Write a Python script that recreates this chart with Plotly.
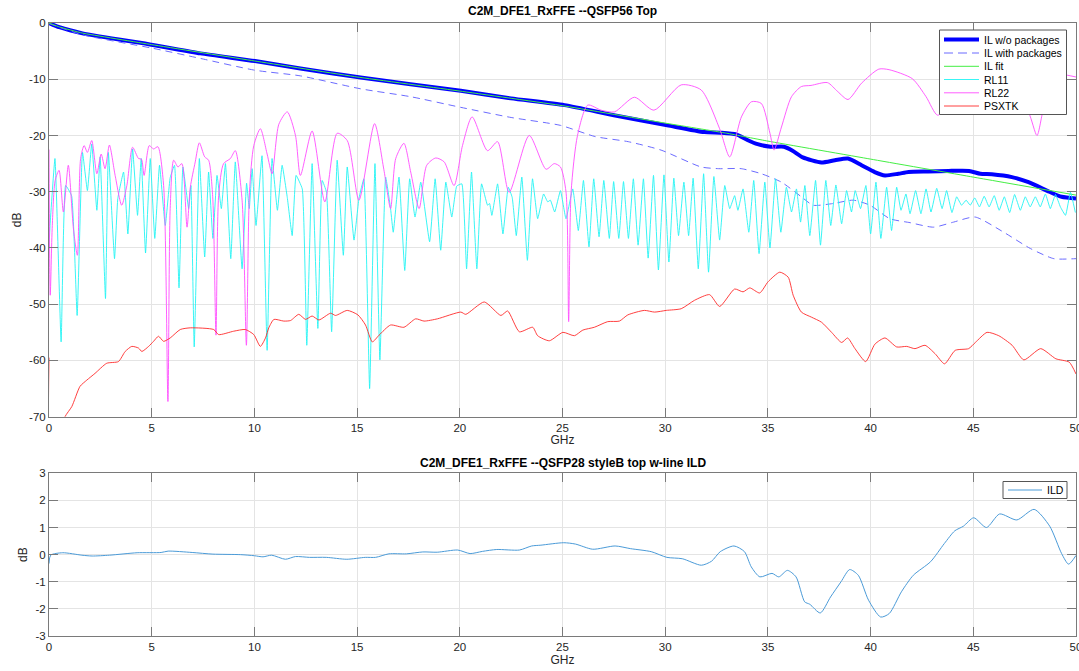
import plotly.graph_objects as go

# ---------------- data ----------------
IL_wo_f = [0, 0.5, 1.63, 5.06, 7.37, 10.03, 12.24, 15.17, 20.05, 22.49, 25.1, 27.5, 30.1, 31.9,
           32.73, 33.46, 34.0, 34.5, 35.13, 35.78, 36.2, 36.7, 37.6, 38.26, 38.9, 39.56, 40.2,
           40.7, 41.35, 41.84, 42.8, 43.8, 44.8, 45.34, 45.9, 46.88, 47.69, 48.7, 49.3, 50]
IL_wo_db = [0, -0.75, -1.84, -3.9, -5.4, -6.77, -8.1, -9.7, -12.06, -13.4, -14.6, -16.4, -18.2, -19.4,
            -19.5, -19.8, -20.8, -21.55, -22.0, -22.0, -22.7, -23.9, -24.8, -24.4, -24.1, -25.3, -26.5,
            -27.1, -26.8, -26.5, -26.4, -26.3, -26.3, -26.8, -26.9, -27.4, -28.3, -30.0, -30.9, -31.2]

IL_with_f = [0, 1.63, 5.06, 7.37, 10.03, 12.24, 15.17, 17.6, 20.05, 22.5, 24.9, 26.6, 28.2, 29.8,
             31.75, 32.6, 33.7, 34.68, 35.66, 36.63, 37.2, 38.17, 39.15, 39.97, 40.94, 41.92, 43.06,
             44.04, 45.09, 46.48, 47.78, 48.92, 50]
IL_with_db = [-0.1, -2.1, -4.5, -6.3, -8.4, -9.4, -11.7, -13.1, -15.0, -16.8, -18.2, -20.2, -21.1, -22.6,
              -25.6, -25.9, -25.9, -26.8, -28.3, -30.9, -32.4, -32.1, -31.5, -32.4, -34.8, -35.5, -36.3,
              -35.4, -34.5, -37.2, -40.1, -41.9, -41.9]

IL_fit_f = [0, 0.5, 1.63, 5, 10, 15, 20, 25, 30, 33, 35, 40, 45, 50]
IL_fit_db = [0, -0.7, -1.8, -3.85, -6.75, -9.6, -12.1, -14.7, -17.8, -19.6, -21.0, -24.2, -27.4, -30.6]

RL11_f = [0, 0.05, 0.29, 0.59, 0.81, 1.1, 1.37, 1.63, 1.87, 2.08, 2.33, 2.49, 2.75, 2.89, 3.19, 3.35,
          3.63, 3.84, 4.07, 4.31, 4.49, 4.7, 4.93, 5.15, 5.38, 5.66, 5.9, 6.11, 6.33, 6.52, 6.8, 6.91,
          7.07, 7.32, 7.58, 7.77, 7.98, 8.18, 8.39, 8.59, 8.85, 9.07, 9.4, 9.62, 9.75, 9.89, 10.08,
          10.37, 10.62, 10.86, 11.12, 11.35, 11.6, 11.84, 12.03, 12.33, 12.55, 12.81, 13.09, 13.3,
          13.51, 13.76, 14.03, 14.33, 14.52, 14.85, 15.09, 15.33, 15.61, 15.87, 16.11, 16.39, 16.63,
          16.76, 17.04, 17.32, 17.56, 17.82, 18.1, 18.53, 18.8, 19.07, 19.32, 19.61, 19.85, 20.1,
          20.33, 20.57, 20.83, 21.06, 21.35, 21.45, 21.56, 21.84, 22.1, 22.36, 22.55, 22.75, 23.02,
          23.29, 23.54, 23.79, 24.08, 24.28, 24.41, 24.62, 24.9, 25.17, 25.5, 25.77, 26.02, 26.29,
          26.52, 26.78, 27.01, 27.28, 27.49, 27.74, 27.97, 28.21, 28.45, 28.68, 28.94, 29.17, 29.43,
          29.67, 29.94, 30.18, 30.42, 30.65, 30.91, 31.14, 31.36, 31.61, 31.87, 32.11, 32.37, 32.65,
          32.9, 33.14, 33.38, 33.54, 33.79, 34.07, 34.31, 34.57, 34.85, 35.1, 35.37, 35.63, 35.9,
          36.15, 36.39, 36.59, 36.8, 37.04, 37.32, 37.56, 37.82, 38.06, 38.31, 38.59, 38.83, 39.07,
          39.25, 39.51, 39.77, 40.0, 40.26, 40.5, 40.78, 41.02, 41.27, 41.48, 41.72, 41.92, 42.19,
          42.45, 42.7, 42.94, 43.22, 43.48, 43.7, 43.96, 44.19, 44.43, 44.65, 44.85, 45.07, 45.3,
          45.53, 45.77, 46.02, 46.26, 46.51, 46.77, 47.01, 47.29, 47.53, 47.77, 48.02, 48.26, 48.51,
          48.75, 49.0, 49.24, 49.49, 49.73, 49.97]
RL11_db = [-40, -36, -24.1, -56.7, -28.9, -30.7, -52, -23, -29.8, -21.5, -33.3, -23.8, -49, -23, -41.9, -31.2,
           -26.5, -37.5, -22.4, -34.2, -24.1, -40.9, -24.1, -38.3, -25.3, -36, -27.5, -25.3, -47.1, -25.6, -33, -28.9,
           -57.6, -24.1, -41.6, -26.5, -38.3, -27.1, -33, -25, -41.9, -24.7, -43.7, -28.5, -33, -25.9, -36,
           -23.6, -58.2, -24.1, -33.3, -25.3, -31, -37.8, -27.1, -29.5, -57.3, -25, -54.3, -28,
           -30.1, -54.9, -24.4, -41.3, -25.6, -38.6, -31.2, -27.7, -65, -25, -59.9, -27.4, -33,
           -37.2, -27.4, -44, -27.7, -34.5, -28.3, -38.9, -27.7, -40.4, -28.3, -34.5, -29, -28.6,
           -43.7, -26.5, -43.7, -28.6, -32.4, -32.1, -34.2, -28.6, -37.5, -29.2, -31, -37.8, -27.4,
           -42.2, -27.7, -34.8, -30.4, -31.8, -31.5, -33.6, -29.8, -34.8, -29.5, -36.9, -28, -39.8,
           -27.7, -38, -28, -38.3, -28.2, -38.3, -28.2, -38.3, -27.7, -39.5, -27.7, -41.8, -27.1,
           -43.9, -27, -42.5, -27.6, -37.8, -28.3, -37.8, -27.6, -43.7, -26.8, -44.3, -27.3, -38.6,
           -28.9, -33, -30.7, -33.3, -29.5, -37.2, -28, -41, -28.3, -40, -27.7, -37.2, -29.2,
           -33.6, -29.5, -35.4, -28.9, -37.8, -28, -39.5, -28, -36, -28.8, -35.7, -29.8, -33.6,
           -29.8, -33, -28.9, -37.5, -28.3, -38.3, -29.2, -36.9, -29.2, -33.3, -30.4, -33.9, -29.8,
           -33.9, -29.5, -33.6, -29.4, -33, -29.8, -33.7, -30.9, -32.4, -31.5, -32.4, -31.1, -32.7,
           -30.8, -32.7, -30.7, -33.3, -30.9, -33.7, -30.5, -33.3, -30.9, -32.7, -30.9, -32.7, -30.4,
           -33, -30.5, -32.7, -34.2, -30.1, -33.7]

RL22_f = [0, 0.06, 0.16, 0.3, 0.49, 0.7, 0.94, 1.19, 1.38, 1.54, 1.71, 1.87, 2.08, 2.33, 2.54, 2.73,
          2.94, 3.22, 3.54, 3.79, 4.07, 4.36, 4.5, 4.63, 4.88, 5.09, 5.3, 5.58, 5.79, 5.9, 6.07, 6.28,
          6.47, 6.72, 6.88, 7.12, 7.32, 7.58, 7.77, 7.97, 8.13, 8.26, 8.5, 8.83, 9.07, 9.4, 9.61, 9.76,
          9.97, 10.29, 10.62, 10.86, 11.19, 11.6, 12.0, 12.24, 12.81, 13.43, 14.03, 14.52, 15.09,
          15.85, 16.3, 16.63, 16.88, 17.28, 17.61, 18.02, 18.39, 18.83, 19.24, 19.72, 20.13, 20.6,
          21.35, 21.84, 22.4, 23.38, 24.2, 24.6, 24.9, 25.17, 25.3, 25.42, 25.73, 26.23, 26.88,
          27.53, 28.5, 29.45, 30.78, 31.75, 32.65, 33.14, 33.71, 34.2, 34.68, 35.1, 35.3, 35.66,
          36.15, 36.63, 37.1, 37.9, 38.4, 38.9, 39.56, 40.4, 40.9, 42.03, 42.7, 43.27, 44.2, 45.2,
          46.3, 47.2, 47.7, 48.1, 48.4, 49.0, 49.6, 50]
RL22_db = [-22.5, -48.4, -36, -28, -26.2, -33.6, -25.3, -36.6, -41.3, -24.1, -21.8, -23, -20.9, -26.8, -23.3, -25.9,
           -21.7, -27.1, -32.4, -28.9, -22.1, -24.1, -24.2, -27.1, -21.8, -22.4, -22.0, -28.9, -67.3, -33, -24.4, -25.6,
           -25, -36.3, -29.2, -24.7, -21.3, -23.8, -24.4, -30.9, -55.5, -30.7, -25, -24.1, -22.7, -31.5, -57.3, -30.1,
           -21.8, -18.8, -23.3, -26.8, -18, -15.8, -20, -27.1, -19.2, -31.8, -19.6, -20.9, -31.5,
           -17.9, -26, -33, -24.1, -21.4, -26.5, -33, -25.3, -24, -24.7, -28.9, -21.8, -16.7,
           -22.7, -21.1, -30.1, -20, -26, -25, -25.6, -30, -53.1, -30, -20, -14.6, -15.5,
           -15.8, -13.2, -15.5, -11.0, -11.9, -18.8, -23.8, -16.7, -14, -14.3, -19.6, -22.6, -18.5,
           -13.1, -11.3, -11.1, -10.6, -12.2, -13.6, -10.7, -8.2, -8.3, -9.9, -13.1, -16.4, -12, -10.5,
           -11.5, -14, -16, -20, -15.5, -9, -9.3, -9.6]

PSXTK_f = [0, 0.05, 0.5, 0.78, 1.11, 1.51, 1.84, 2.24, 2.81, 3.38, 3.71, 4.03, 4.36, 4.52, 4.85, 5.09,
           5.33, 5.58, 5.9, 6.39, 6.88, 8.02, 8.26, 8.99, 9.56, 9.97, 10.29, 10.54, 10.7, 10.95, 11.43,
           11.76, 12.16, 12.49, 12.81, 13.14, 13.71, 13.95, 14.52, 15.04, 15.41, 15.74, 16.07, 16.63,
           17.28, 17.85, 18.26, 18.91, 20.05, 20.29, 21.19, 22.0, 22.33, 22.9, 23.55, 23.79, 24.36,
           25.02, 25.58, 25.99, 26.55, 27.2, 27.77, 28.18, 28.99, 29.48, 30.05, 30.78, 31.43, 32.16,
           32.65, 33.38, 33.79, 34.12, 34.6, 35.01, 35.58, 35.99, 36.23, 36.63, 37.12, 37.61, 38.1,
           38.59, 38.88, 39.24, 39.76, 40.21, 40.7, 41.27, 41.76, 42.16, 42.65, 43.14, 43.6, 44.12,
           44.77, 45.1, 45.67, 46.24, 46.89, 47.46, 48.28, 49.02, 49.67, 50]
PSXTK_db = [-59.5, -78, -74, -70, -68.2, -64.6, -63.5, -62.3, -60.5, -60.2, -58.4, -57.5, -57.8, -58.4, -57.5, -56.6,
            -55.7, -56.6, -56, -54.5, -54.2, -54.5, -55.4, -54.8, -54.5, -55.4, -57.5, -56, -54.2, -52.7, -53,
            -52.9, -51.8, -52.7, -52.1, -52.8, -51.6, -52, -51.1, -51.9, -53.7, -56.7, -55.5, -53.7,
            -54.1, -52.6, -53, -52.6, -51.4, -51.8, -49.6, -52, -51.2, -54.9, -54.1, -55.6, -56.5,
            -55, -55.6, -54.6, -54.1, -53.1, -53, -51.9, -51.1, -51.4, -51.1, -50.8, -49.3, -48.3,
            -50.4, -47.3, -47.8, -47.1, -48, -46, -44.3, -45.2, -48.4, -51.4, -52.3, -53.2, -55,
            -56.8, -56, -57.9, -60.2, -57.1, -56, -57.6, -57.5, -57.9, -57.3, -58.8, -60.6, -58.2,
            -57.9, -56.8, -55, -55.6, -57.3, -59.9, -57.9, -59.7, -60.3, -62.4]

ILD_f = [0, 0.08, 0.67, 1.6, 2.1, 2.94, 4.29, 5.46, 5.8, 6.97, 7.98, 9.33, 10.0, 10.42, 10.84, 11.51,
         12.0, 12.68, 13.5, 14.5, 15.4, 15.9, 16.55, 17.4, 18.2, 18.9, 19.9, 20.5, 21.1, 21.8, 22.9,
         23.5, 23.95, 25.06, 25.63, 26.47, 27.56, 28.32, 29.32, 30.08, 30.83, 31.76, 32.26, 32.68,
         33.35, 33.86, 34.19, 34.61, 35.2, 35.53, 35.95, 36.37, 36.79, 37.04, 37.55, 38.05, 38.56,
         38.98, 39.4, 39.9, 40.49, 40.91, 41.5, 42.08, 42.92, 43.59, 44.1, 44.52, 45.02, 45.64,
         46.28, 47.12, 47.96, 48.72, 49.3, 49.64, 50]
ILD_db = [-0.33, -0.02, 0.07, -0.02, -0.05, -0.02, 0.07, 0.08, 0.13, 0.08, 0.02, 0.0, -0.04, -0.08, -0.02, -0.17,
          -0.07, -0.1, -0.1, -0.17, -0.1, -0.1, 0.03, 0.03, 0.1, 0.09, 0.17, 0.04, 0.12, 0.19, 0.17,
          0.32, 0.35, 0.44, 0.39, 0.2, 0.32, 0.22, 0.11, -0.1, -0.15, -0.39, -0.24, 0.11,
          0.32, 0.11, -0.45, -0.82, -0.69, -0.82, -0.58, -0.82, -1.74, -1.83, -2.15, -1.56, -1.0,
          -0.55, -0.76, -1.68, -2.3, -2.17, -1.37, -0.76, -0.26, 0.41, 0.88, 1.05, 1.36, 1.0,
          1.5, 1.28, 1.67, 1.05, 0.04, -0.35, -0.03]

x_ticks = [0, 5, 10, 15, 20, 25, 30, 35, 40, 45, 50]
x_ticklabels = ["0", "5", "10", "15", "20", "25", "30", "35", "40", "45", "50"]
y1_ticks = [-70, -60, -50, -40, -30, -20, -10, 0]
y1_ticklabels = ["-70", "-60", "-50", "-40", "-30", "-20", "-10", "0"]
y2_ticks = [-3, -2, -1, 0, 1, 2, 3]
y2_ticklabels = ["-3", "-2", "-1", "0", "1", "2", "3"]

series_names = ["IL w/o packages", "IL with packages", "IL fit", "RL11", "RL22", "PSXTK"]
series_colors = ["#0000ff", "#6b6bff", "#44ee44", "#22f4f4", "#ff4dff", "#ff2a2a"]
top_title = "C2M_DFE1_RxFFE --QSFP56 Top"
bottom_title = "C2M_DFE1_RxFFE --QSFP28 styleB top w-line ILD"
ild_name = "ILD"
ild_color = "#4b9bd8"

# ---------------- figure ----------------
W, H = 1079, 671
ML, MR, MT, MB = 49, 3, 23, 35
PW, PH = W - ML - MR, H - MT - MB

def px(x):
    return (x - ML) / PW

def py(y):
    return (H - MB - y) / PH

FONT = "Liberation Sans, Arial, Helvetica, sans-serif"
TXT = "#262626"
AX = "#7a7a7a"
GRID = "#e4e4e4"

fig = go.Figure()
dashes = ["solid", "7px,5px", "solid", "solid", "solid", "solid"]
widths = [4, 1, 1, 0.9, 0.9, 0.9]
shapes_ln = ["spline", "spline", "spline", "spline", "spline", "spline"]
smooths = [0.6, 0.6, 0.3, 0.35, 0.7, 0.6]
data = [(IL_wo_f, IL_wo_db), (IL_with_f, IL_with_db), (IL_fit_f, IL_fit_db),
        (RL11_f, RL11_db), (RL22_f, RL22_db), (PSXTK_f, PSXTK_db)]
for (xf, yd), name, col, dsh, wd, shp, sm in zip(data, series_names, series_colors, dashes, widths,
                                                 shapes_ln, smooths):
    fig.add_trace(go.Scatter(x=xf, y=yd, mode="lines", name=name,
                             line=dict(color=col, width=wd, dash=dsh, shape=shp, smoothing=sm),
                             xaxis="x", yaxis="y", showlegend=False))
fig.add_trace(go.Scatter(x=ILD_f, y=ILD_db, mode="lines", name=ild_name,
                         line=dict(color=ild_color, width=1, shape="spline", smoothing=0.7),
                         xaxis="x2", yaxis="y2", showlegend=False))

axis_common = dict(ticks="inside", ticklen=9, tickcolor=AX, tickwidth=1,
                   showline=True, linecolor=AX, linewidth=1, mirror="ticks",
                   showgrid=True, gridcolor=GRID, gridwidth=1, zeroline=False,
                   ticklabeloverflow="allow", automargin=False,
                   tickfont=dict(family=FONT, size=11.5, color=TXT))

top_dom = [py(416.7), 1.0]
bot_dom = [0.0, py(473.3)]

fig.update_layout(
    width=W, height=H, margin=dict(l=ML, r=MR, t=MT, b=MB, autoexpand=False),
    paper_bgcolor="white", plot_bgcolor="white", showlegend=False,
    font=dict(family=FONT, color=TXT),
    xaxis=dict(domain=[0, 1], anchor="y", range=[0, 50], tickvals=x_ticks, ticktext=x_ticklabels,
               title=dict(text="GHz", standoff=0, font=dict(family=FONT, size=12, color=TXT)), **axis_common),
    yaxis=dict(domain=top_dom, anchor="x", range=[-70, 0], tickvals=y1_ticks, ticktext=y1_ticklabels,
               title=dict(text="dB", standoff=4, font=dict(family=FONT, size=12, color=TXT)), **axis_common),
    xaxis2=dict(domain=[0, 1], anchor="y2", range=[0, 50], tickvals=x_ticks, ticktext=x_ticklabels,
                title=dict(text="GHz", standoff=0, font=dict(family=FONT, size=12, color=TXT)), **axis_common),
    yaxis2=dict(domain=bot_dom, anchor="x2", range=[-3, 3], tickvals=y2_ticks, ticktext=y2_ticklabels,
                title=dict(text="dB", standoff=5, font=dict(family=FONT, size=12, color=TXT)), **axis_common),
)

annotations = [
    dict(text="<b>%s</b>" % top_title, xref="paper", yref="paper", x=0.5, y=py(11),
         xanchor="center", yanchor="middle", showarrow=False, font=dict(family=FONT, size=12, color="#000")),
    dict(text="<b>%s</b>" % bottom_title, xref="paper", yref="paper", x=0.5, y=py(463),
         xanchor="center", yanchor="middle", showarrow=False, font=dict(family=FONT, size=12, color="#000")),
]
shapes = []

# manual legend (top)
shapes.append(dict(type="rect", xref="paper", yref="paper", x0=px(939.5), x1=px(1066.5),
                   y0=py(114.5), y1=py(30), fillcolor="white", line=dict(color="#555555", width=1), layer="above"))
leg_y = [39.5, 53, 66.3, 79.5, 92.8, 106]
for name, col, dsh, wd, yy in zip(series_names, series_colors, dashes, widths, leg_y):
    shapes.append(dict(type="line", xref="paper", yref="paper", x0=px(944), x1=px(979),
                       y0=py(yy), y1=py(yy), line=dict(color=col, width=wd, dash=dsh if dsh == "solid" else "9px,5px"),
                       layer="above"))
    annotations.append(dict(text=name, xref="paper", yref="paper", x=px(982), y=py(yy),
                            xanchor="left", yanchor="middle", showarrow=False,
                            font=dict(family=FONT, size=10.5, color="#000")))

# manual legend (bottom)
shapes.append(dict(type="rect", xref="paper", yref="paper", x0=px(1003), x1=px(1067),
                   y0=py(498.5), y1=py(481.5), fillcolor="white", line=dict(color="#555555", width=1), layer="above"))
shapes.append(dict(type="line", xref="paper", yref="paper", x0=px(1008), x1=px(1042),
                   y0=py(490), y1=py(490), line=dict(color=ild_color, width=1), layer="above"))
annotations.append(dict(text=ild_name, xref="paper", yref="paper", x=px(1045), y=py(490),
                        xanchor="left", yanchor="middle", showarrow=False,
                        font=dict(family=FONT, size=10.5, color="#000")))

fig.update_layout(annotations=annotations, shapes=shapes)
fig.write_html("out.html")
